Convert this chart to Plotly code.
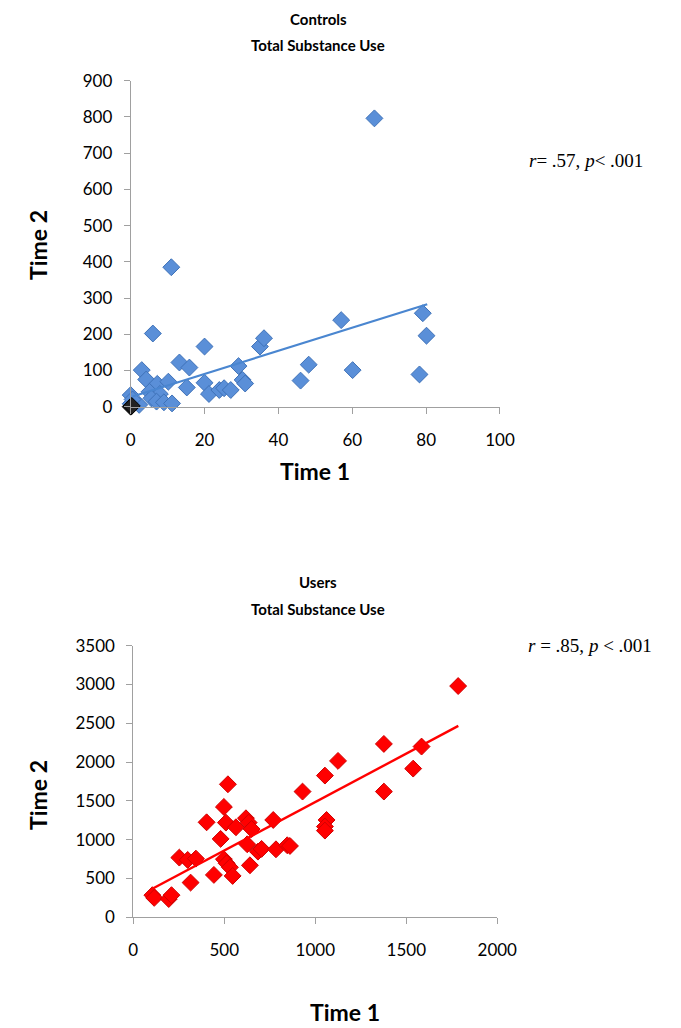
import plotly.graph_objects as go

# ---- Controls data ----
ctrl_t1 = [66, 11, 6, 20, 3, 4.2, 13.2, 15.9, 7.2, 10.2, 5.1, 7.9, 5.6, 7.0, 9.0, 11.2,
           15.2, 20, 21.2, 24, 25.3, 27.1, 29.2, 30.3, 31.0, 35.0, 36.1, 46.0, 48.2,
           57.0, 60.1, 78.2, 79.1, 80.1, 0, 0, 2.3, 0.5]
ctrl_t2 = [796, 385, 202, 166, 101, 75, 122, 108, 63, 69, 41, 35, 23, 14, 12, 9,
           53, 66, 35, 46, 51, 46, 112, 74, 64, 166, 189, 72, 116,
           239, 101, 89, 258, 196, 32, 8, 5, 20]
ctrl_zero_t1 = [0, 0.3]
ctrl_zero_t2 = [0, 2]
ctrl_trend_x = [0.5, 80.3]
ctrl_trend_y = [28, 283]

# ---- Users data ----
user_t1 = [1785, 105, 115, 195, 210, 315, 253, 299, 344, 403, 443, 480, 498, 509, 520,
           498, 513, 531, 546, 564, 619, 634, 650, 626, 641, 685, 705, 769, 784,
           846, 861, 930, 1053, 1062, 1053, 1053, 1125, 1377, 1377, 1538, 1584]
user_t2 = [2980, 285, 250, 235, 285, 447, 769, 739, 756, 1224, 546, 1010, 1422, 1220, 1714,
           748, 696, 644, 533, 1160, 1276, 1220, 1138, 941, 670, 846, 881, 1254, 876,
           928, 919, 1620, 1826, 1254, 1169, 1117, 2015, 2234, 1620, 1916, 2200]
user_trend_x = [110, 1786]
user_trend_y = [374, 2466]

BLUE = "#5A8FD8"
BLUE_EDGE = "#3F72B8"
RED = "#FF0000"
TICK_FONT = dict(family="Lato", size=17, color="black")

fig = go.Figure()

# Controls
fig.add_trace(go.Scatter(x=ctrl_t1, y=ctrl_t2, mode="markers", xaxis="x", yaxis="y",
                         marker=dict(symbol="diamond", size=13, color=BLUE,
                                     line=dict(color=BLUE_EDGE, width=1)),
                         cliponaxis=False, showlegend=False))
fig.add_trace(go.Scatter(x=ctrl_zero_t1, y=ctrl_zero_t2, mode="markers", xaxis="x", yaxis="y",
                         marker=dict(symbol="diamond", size=13, color="#222222",
                                     line=dict(color="#000000", width=1)),
                         cliponaxis=False, showlegend=False))
fig.add_trace(go.Scatter(x=ctrl_trend_x, y=ctrl_trend_y, mode="lines", xaxis="x", yaxis="y",
                         line=dict(color="#4A86D0", width=2.2), showlegend=False))

# Users
fig.add_trace(go.Scatter(x=user_t1, y=user_t2, mode="markers", xaxis="x2", yaxis="y2",
                         marker=dict(symbol="diamond", size=13, color=RED,
                                     line=dict(color="#D00000", width=1)),
                         cliponaxis=False, showlegend=False))
fig.add_trace(go.Scatter(x=user_trend_x, y=user_trend_y, mode="lines", xaxis="x2", yaxis="y2",
                         line=dict(color=RED, width=2.4), showlegend=False))

axis_common = dict(showgrid=False, zeroline=False, showline=True, linecolor="#a0a0a0",
                   linewidth=1, ticks="outside", tickcolor="#a0a0a0", ticklen=6,
                   tickfont=TICK_FONT, fixedrange=True, automargin=False)

fig.update_layout(
    template="none",
    width=681, height=1028,
    margin=dict(l=0, r=0, t=0, b=0, pad=0, autoexpand=False),
    paper_bgcolor="white", plot_bgcolor="white",
    xaxis=dict(domain=[0.1919, 0.7342], anchor="y", range=[0, 100], dtick=20,
               ticklabelstandoff=12, **axis_common),
    yaxis=dict(domain=[0.6044, 0.9215], anchor="x", range=[0, 900], dtick=100,
               ticklabelstandoff=8, **axis_common),
    xaxis2=dict(domain=[0.1957, 0.7302], anchor="y2", range=[0, 2000], dtick=500,
                ticklabelstandoff=11, **axis_common),
    yaxis2=dict(domain=[0.1077, 0.3719], anchor="x2", range=[0, 3500], dtick=500,
                ticklabelstandoff=8, **axis_common),
)

def txt(x, y, text, size, bold=False, angle=0, family="Lato", xanchor="center"):
    fig.add_annotation(x=x, y=y, xref="paper", yref="paper", text=(f"<b>{text}</b>" if bold else text),
                       showarrow=False, textangle=angle, xanchor=xanchor, yanchor="middle",
                       font=dict(family=family, size=size, color="black"))

H, W = 1028, 681
# Titles
txt(318 / W, 1 - 19 / H, "Controls", 15, bold=True)
txt(318 / W, 1 - 45 / H, "Total Substance Use", 15, bold=True)
txt(318 / W, 1 - 582 / H, "Users", 15, bold=True)
txt(318 / W, 1 - 609 / H, "Total Substance Use", 15, bold=True)
# Axis titles
txt(38 / W, 1 - 245 / H, "Time 2", 23, bold=True, angle=-90)
txt(315 / W, 1 - 471 / H, "Time 1", 23, bold=True)
txt(38 / W, 1 - 795 / H, "Time 2", 23, bold=True, angle=-90)
txt(345 / W, 1 - 1012 / H, "Time 1", 23, bold=True)
# Stats
txt(527 / W, 1 - 160 / H, "<i>r</i>= .57, <i>p</i>< .001", 19, family="Liberation Serif", xanchor="left")
txt(526 / W, 1 - 645 / H, "<i>r</i> = .85, <i>p</i> < .001", 19, family="Liberation Serif", xanchor="left")

fig.write_html("out.html", config={"responsive": False, "displayModeBar": False},
               post_script="document.body.style.margin='0';document.body.style.overflow='hidden';")
